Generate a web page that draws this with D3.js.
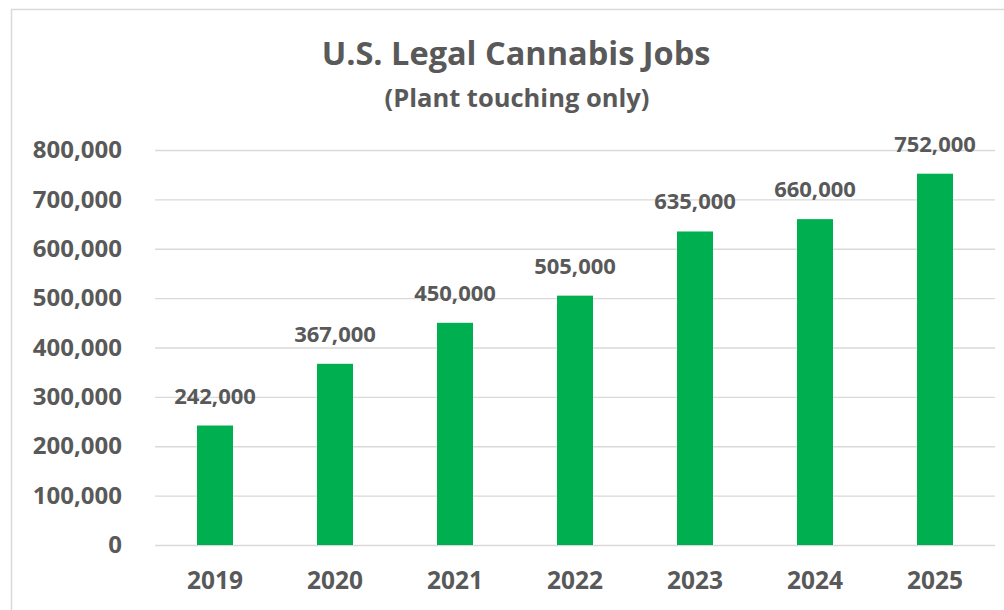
<!DOCTYPE html>
<html>
<head>
<meta charset="utf-8">
<script src="https://cdn.jsdelivr.net/npm/d3@7"></script>
<style>
  html, body { margin: 0; padding: 0; background: #fff; }
  svg { display: block; }
  text { font-family: "Open Sans", Lato, sans-serif; font-weight: bold; fill: #595959; }
</style>
</head>
<body>
<svg id="chart" width="1004" height="610"></svg>
<script>
// Legal cannabis jobs (plant touching) by year
const years = ["2019", "2020", "2021", "2022", "2023", "2024", "2025"];
const jobs = [242000, 367000, 450000, 505000, 635000, 660000, 752000];
const yTicks = [0, 100000, 200000, 300000, 400000, 500000, 600000, 700000, 800000];
const titleText = "U.S. Legal Cannabis Jobs";
const subtitleText = "(Plant touching only)";

const svg = d3.select("#chart");
const W = 1004, H = 610;
const plot = { left: 155, right: 995, top: 150, bottom: 545 };
const FONT = "'Open Sans', Lato, sans-serif";

// chart frame
svg.append("rect")
  .attr("x", 11.5).attr("y", 9.5)
  .attr("width", W + 20).attr("height", H + 20)
  .attr("fill", "#fff").attr("stroke", "#d9d9d9").attr("stroke-width", 1.5);

const x = d3.scaleBand().domain(years).range([plot.left, plot.right]).paddingInner(0.7).paddingOuter(0.35);
const y = d3.scaleLinear().domain([0, 800000]).range([plot.bottom, plot.top]);
const fmt = d3.format(",");

// gridlines + y labels
const yAxis = d3.axisLeft(y).tickValues(yTicks).tickFormat(fmt)
  .tickSize(-(plot.right - plot.left)).tickPadding(33);
const gy = svg.append("g").attr("transform", `translate(${plot.left},0)`).call(yAxis);
gy.select(".domain").remove();
gy.selectAll(".tick line").attr("stroke", "#d9d9d9").attr("stroke-width", 1.3);
gy.selectAll(".tick text").attr("font-size", 24).attr("fill", "#595959")
  .style("font-family", FONT).style("font-weight", "bold");

// x labels
const xAxis = d3.axisBottom(x).tickSize(0).tickPadding(27);
const gx = svg.append("g").attr("transform", `translate(0,${plot.bottom})`).call(xAxis);
gx.select(".domain").remove();
gx.selectAll(".tick text").attr("font-size", 24.5).attr("fill", "#595959")
  .style("font-family", FONT).style("font-weight", "bold");

// bars
svg.append("g").selectAll("rect").data(years).join("rect")
  .attr("x", d => x(d))
  .attr("width", x.bandwidth())
  .attr("y", (d, i) => y(jobs[i]))
  .attr("height", (d, i) => y(0) - y(jobs[i]))
  .attr("fill", "#00b050");

// value labels
svg.append("g").selectAll("text").data(years).join("text")
  .attr("x", d => x(d) + x.bandwidth() / 2)
  .attr("y", (d, i) => y(jobs[i]) - 22)
  .attr("text-anchor", "middle")
  .attr("font-size", 22)
  .text((d, i) => fmt(jobs[i]));

// titles
svg.append("text").attr("x", 516).attr("y", 65).attr("text-anchor", "middle")
  .attr("font-size", 32.5).text(titleText);
svg.append("text").attr("x", 517).attr("y", 107).attr("text-anchor", "middle")
  .attr("font-size", 25.5).text(subtitleText);
</script>
</body>
</html>
